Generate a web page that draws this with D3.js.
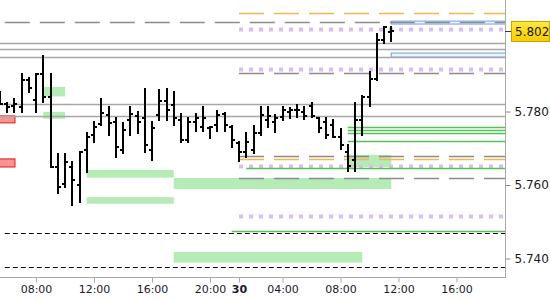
<!DOCTYPE html>
<html>
<head>
<meta charset="utf-8">
<script src="https://cdn.jsdelivr.net/npm/d3@7"></script>
<style>
  body { margin: 0; background: #fff; }
  text { font-family: "DejaVu Sans", Verdana, sans-serif; }
</style>
</head>
<body>
<svg id="chart" width="550" height="300"></svg>
<script>
// 30-minute OHLC bars, one per slot (slot 0 = 05:30 day 1)
var openPx  = [5.7845,5.7820,5.7815,5.7812,5.7886,5.7831,5.7902,5.7839,5.7649,5.7603,5.7649,5.7600,5.7695,5.7736,5.7766,5.7790,5.7771,5.7695,5.7777,5.7788,5.7782,5.7695,5.7790,5.7829,5.7818,5.7777,5.7722,5.7771,5.7758,5.7755,5.7763,5.7793,5.7758,5.7714,5.7690,5.7695,5.7741,5.7777,5.7771,5.7785,5.7799,5.7804,5.7799,5.7815,5.7782,5.7771,5.7763,5.7731,5.7690,5.7668,5.7777,5.7839,5.7888,5.7995,5.8016];
var highPx  = [5.7853,5.7823,5.7834,5.7902,5.7891,5.7902,5.7951,5.7902,5.7684,5.7684,5.7663,5.7690,5.7741,5.7771,5.7834,5.7812,5.7782,5.7769,5.7812,5.7799,5.7861,5.7771,5.7859,5.7861,5.7853,5.7793,5.7782,5.7793,5.7812,5.7758,5.7801,5.7796,5.7761,5.7717,5.7741,5.7761,5.7812,5.7812,5.7790,5.7812,5.7810,5.7818,5.7812,5.7823,5.7782,5.7782,5.7777,5.7752,5.7709,5.7823,5.7842,5.7907,5.8011,5.8030,5.8030];
var lowPx   = [5.7820,5.7799,5.7799,5.7799,5.7853,5.7799,5.7826,5.7649,5.7578,5.7595,5.7546,5.7554,5.7635,5.7717,5.7763,5.7736,5.7676,5.7687,5.7736,5.7741,5.7690,5.7668,5.7777,5.7777,5.7763,5.7717,5.7717,5.7747,5.7747,5.7728,5.7747,5.7747,5.7703,5.7665,5.7676,5.7687,5.7736,5.7758,5.7744,5.7777,5.7782,5.7785,5.7780,5.7785,5.7744,5.7728,5.7731,5.7698,5.7638,5.7638,5.7736,5.7815,5.7886,5.7986,5.7992];
var closePx = [5.7820,5.7812,5.7820,5.7886,5.7864,5.7902,5.7839,5.7649,5.7595,5.7663,5.7614,5.7690,5.7731,5.7758,5.7796,5.7769,5.7703,5.7750,5.7793,5.7771,5.7709,5.7755,5.7829,5.7804,5.7782,5.7722,5.7771,5.7782,5.7782,5.7758,5.7790,5.7763,5.7722,5.7690,5.7717,5.7741,5.7790,5.7788,5.7782,5.7804,5.7804,5.7804,5.7788,5.7788,5.7755,5.7736,5.7731,5.7709,5.7652,5.7777,5.7839,5.7888,5.7995,5.8030,5.8019];

var tickSlots  = [5, 13, 21, 29, 33, 39, 47, 55, 63];
var tickLabels = ["08:00", "12:00", "16:00", "20:00", "30", "04:00", "08:00", "12:00", "16:00"];
var yTicks = [5.74, 5.76, 5.78];
var lastPrice = 5.802;

// price levels
var solidLevels    = [5.7986, 5.7969, 5.7947, 5.7820, 5.7787];
var greyDashFull   = [5.8043];
var sessionStart   = 33;
var sessionGrey    = [5.7905, 5.7678, 5.7618];
var sessionOrange  = [5.8067, 5.7670];
var sessionPurple  = [5.8024, 5.7916, 5.7652, 5.7516];
var blackDash      = [5.7469, 5.7376];
var greenLineFrom  = [48, 48, 48, 48, 34, 32];
var greenLinePx    = [5.7757, 5.7750, 5.7741, 5.7719, 5.7645, 5.7475];

// zones: [fromSlot, toSlot, lowPrice, highPrice]
var greenZones = [[6, 9, 5.7841, 5.7867], [6, 9, 5.7780, 5.7799], [12, 24, 5.7620, 5.7641],
                  [12, 24, 5.7549, 5.7567], [24, 54, 5.7589, 5.7619], [24, 50, 5.7389, 5.7418],
                  [48, 54, 5.7649, 5.7682]];
var redZones   = [[-2, 2.1, 5.7769, 5.7788], [-2, 2.1, 5.7649, 5.7671]];
var blueZones  = [[54, 72, 5.8038, 5.8046], [54, 72, 5.7948, 5.7959]];

var W = 505, H = 277;
var svg = d3.select('#chart');

var x = d3.scaleLinear().domain([0, 70]).range([-0.25, 507.25]);
var y = d3.scaleLinear().domain([5.74, 5.78]).range([258.5, 111.5]);

svg.append('clipPath').attr('id', 'plot')
  .append('rect').attr('x', 0).attr('y', 0).attr('width', W).attr('height', H);

var plot = svg.append('g').attr('clip-path', 'url(#plot)');

function zones(list, fill, stroke) {
  plot.selectAll(null).data(list).enter().append('rect')
    .attr('x', function(d) { return x(d[0]); })
    .attr('width', function(d) { return x(d[1]) - x(d[0]); })
    .attr('y', function(d) { return y(d[3]); })
    .attr('height', function(d) { return y(d[2]) - y(d[3]); })
    .attr('fill', fill)
    .attr('stroke', stroke || 'none');
}
zones(greenZones, '#b5ebb5');
zones(redZones, '#f79595', '#e01818');
zones(blueZones, '#eef4ff', '#6d9eea');

function levels(list, from, color, width, dash) {
  plot.selectAll(null).data(list).enter().append('line')
    .attr('x1', function(d, i) { return typeof from === 'number' ? x(from) : x(from[i]); })
    .attr('x2', W)
    .attr('y1', function(d) { return Math.round(y(d)) + 0.5; })
    .attr('y2', function(d) { return Math.round(y(d)) + 0.5; })
    .attr('stroke', color)
    .attr('stroke-width', width)
    .attr('stroke-dasharray', dash || null);
}
levels(solidLevels, 0, '#a6a6a6', 1.5);
levels(greyDashFull, 0.7, '#8c8c8c', 1.5, '25,10');
levels(sessionGrey, sessionStart, '#8c8c8c', 1.5, '25,10');
levels(sessionOrange, sessionStart, '#f4b74c', 1.5, '25,10');
levels(sessionPurple, sessionStart, '#dcbdf0', 4, '4,6');
levels(blackDash, 0.7, '#111', 1.2, '5,3');
levels(greenLinePx, greenLineFrom, '#55c255', 1.5);

// OHLC bars
var bars = plot.selectAll('g.bar').data(openPx).enter().append('g')
  .attr('class', 'bar')
  .attr('shape-rendering', 'crispEdges')
  .attr('stroke', '#000')
  .attr('stroke-width', 2);
bars.append('line')
  .attr('x1', function(d, i) { return Math.round(x(i)); })
  .attr('x2', function(d, i) { return Math.round(x(i)); })
  .attr('y1', function(d, i) { return y(highPx[i]) - 1; })
  .attr('y2', function(d, i) { return y(lowPx[i]) + 1; });
bars.append('line')
  .attr('x1', function(d, i) { return Math.round(x(i)) - 3; })
  .attr('x2', function(d, i) { return Math.round(x(i)); })
  .attr('y1', function(d) { return Math.round(y(d)); })
  .attr('y2', function(d) { return Math.round(y(d)); });
bars.append('line')
  .attr('x1', function(d, i) { return Math.round(x(i)); })
  .attr('x2', function(d, i) { return Math.round(x(i)) + 3; })
  .attr('y1', function(d, i) { return Math.round(y(closePx[i])); })
  .attr('y2', function(d, i) { return Math.round(y(closePx[i])); });

// axes
svg.append('line').attr('x1', W + 0.5).attr('x2', W + 0.5).attr('y1', 0).attr('y2', H)
  .attr('stroke', '#a9a9a9');
svg.append('line').attr('x1', 0).attr('x2', W + 1).attr('y1', H + 0.5).attr('y2', H + 0.5)
  .attr('stroke', '#a9a9a9');

var yAxis = svg.append('g').attr('transform', 'translate(' + (W + 0.5) + ',0)')
  .call(d3.axisRight(y).tickValues(yTicks).tickSize(5).tickPadding(4).tickFormat(d3.format('.3f')));
yAxis.select('.domain').remove();
yAxis.selectAll('.tick line').attr('stroke', '#8a8a8a');
yAxis.selectAll('text').attr('font-size', 12).attr('fill', '#1a1a1a')
  .style('font-family', '"DejaVu Sans", Verdana, sans-serif');

var xAxis = svg.append('g').attr('transform', 'translate(0,' + (H + 0.5) + ')')
  .call(d3.axisBottom(x).tickValues(tickSlots).tickSize(5).tickPadding(3)
    .tickFormat(function(d, i) { return tickLabels[i]; }));
xAxis.select('.domain').remove();
xAxis.selectAll('.tick line').attr('stroke', '#a9a9a9');
xAxis.selectAll('text').attr('font-size', 11).attr('fill', '#1a1a2e')
  .style('font-family', '"DejaVu Sans", Verdana, sans-serif')
  .attr('font-weight', function(d, i) { return tickLabels[i].length < 3 ? 'bold' : null; });

// last price tag
var grad = svg.append('defs').append('linearGradient').attr('id', 'tag')
  .attr('x1', 0).attr('x2', 0).attr('y1', 0).attr('y2', 1);
grad.append('stop').attr('offset', '0%').attr('stop-color', '#ffea3a');
grad.append('stop').attr('offset', '100%').attr('stop-color', '#f7cc00');

var py = Math.round(y(lastPrice)) + 0.5;
svg.append('line').attr('x1', W).attr('x2', W + 6).attr('y1', py).attr('y2', py)
  .attr('stroke', '#333');
svg.append('rect').attr('x', 511.5).attr('y', py - 10).attr('width', 38).attr('height', 20)
  .attr('fill', 'url(#tag)').attr('stroke', '#c9a400');
svg.append('text').attr('x', 515).attr('y', py).attr('dy', '0.35em')
  .attr('font-size', 12).attr('fill', '#1a1a1a').text(d3.format('.3f')(lastPrice));
</script>
</body>
</html>
